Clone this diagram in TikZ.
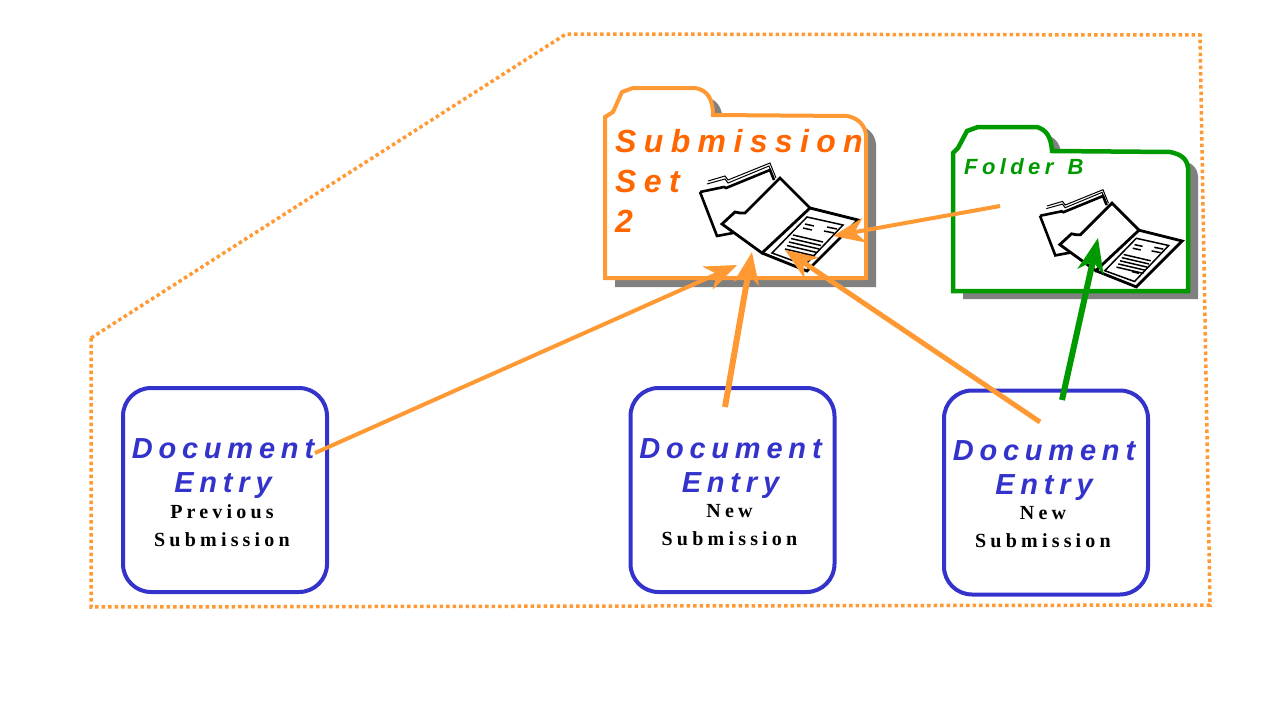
\documentclass[tikz,border=0pt]{standalone}
\usepackage{fontspec}
\setmainfont{Liberation Sans}
\newfontfamily\foldertitlefont[LetterSpace=23]{Liberation Sans Bold Italic}
\newfontfamily\foldernamefont[LetterSpace=20]{Liberation Sans Bold Italic}
\newfontfamily\entrytitlefont[LetterSpace=20]{Liberation Sans Bold Italic}
\newfontfamily\entrysubfont[LetterSpace=21]{Liberation Serif Bold}
\usetikzlibrary{arrows.meta,positioning}
\definecolor{setorange}{HTML}{FF9933}
\definecolor{settext}{HTML}{FF6600}
\definecolor{foldergreen}{HTML}{009900}
\definecolor{entryblue}{HTML}{3333CC}
\definecolor{shadowgray}{HTML}{808080}
\tikzset{
    entry/.style={draw=entryblue,line width=4pt,rounded corners=28pt,minimum width=204pt,minimum height=204pt},
    entrytitle/.style={anchor=north,inner sep=0pt,align=center,text=entryblue,font=\fontsize{29}{34}\selectfont\entrytitlefont},
    entrysub/.style={anchor=north,inner sep=0pt,align=center,text=black,font=\fontsize{20}{28}\selectfont\entrysubfont},
    settitle/.style={anchor=north west,inner sep=0pt,align=left,text=settext,font=\fontsize{32}{40}\selectfont\foldertitlefont},
    foldername/.style={anchor=north west,inner sep=0pt,text=foldergreen,font=\fontsize{22}{26}\selectfont\foldernamefont},
    orangelink/.style={draw=setorange,line width=5pt,-{Stealth[length=32pt,width=25pt,inset=10pt]}},
    greenlink/.style={draw=foldergreen,line width=6pt,-{Stealth[length=34pt,width=26pt,inset=10pt]}},
    foldericon/.pic={
        \draw[line width=2.6pt,line join=miter] (0,42) -- (24,37) -- (26,38) -- (70,20) -- (74,30);
        \draw[line width=2.6pt] (0,42) -- (17,86) -- (33,83);
        \draw[line width=1pt] (8,31) -- (25,26) -- (28,30) -- (70,13) -- (76,28);
        \draw[line width=1pt] (7,34) -- (25,29) -- (28,33) -- (69,16) -- (74,30);
        \draw[line width=2.8pt] (22,74) -- (35,62) -- (40,63) -- (45,63) -- (80,28) -- (110,58) -- (62,103) -- cycle;
        \draw[line width=2.8pt] (110,58) -- (158,70) -- (107,121) -- (62,103);
        \draw[line width=1.5pt] (107,67) -- (143,75) -- (105,115) -- (72,103) -- cycle;
        \draw[line width=1.5pt] (105,74) -- (114,76) (103,78) -- (112,80) (127,77) -- (137,79) (124,81) -- (134,83) (102,104) -- (110,106);
        \foreach \i in {0,1,2,3,4}
            \draw[line width=1.5pt] (93-\i*2,85+\i*3.5) -- (123-\i*2,92+\i*3.5);
    }
}
\newcommand{\submissionpath}{(605,117) -- (613,112) -- (622,92) -- (633,88) -- (695,88) .. controls (708,90) and (713,100) .. (713,115) -- (847,116) .. controls (858,118) and (865,125) .. (866,135) -- (866,278) -- (605,278) -- cycle}
\newcommand{\folderbpath}{(953,153) -- (958,148) -- (967,131) -- (978,127) -- (1037,127) .. controls (1046,130) and (1051,136) .. (1052,151) -- (1170,152) .. controls (1180,154) and (1187,158) .. (1188,168) -- (1188,291) -- (953,291) -- cycle}

\begin{document}
\begin{tikzpicture}[x=1pt,y=-1pt]
    \useasboundingbox (0,0) rectangle (1280,720);

    \draw[setorange,line width=3.5pt,dash pattern=on 3.5pt off 3pt] (91,338) -- (566,34) -- (1200,35) -- (1210,605) -- (91,607) -- cycle;

    \fill[shadowgray,shift={(10,9)}] \submissionpath;
    \fill[white] \submissionpath;
    \draw[setorange,line width=4pt] \submissionpath;
    \fill[shadowgray,shift={(10,8)}] \folderbpath;
    \fill[white] \folderbpath;
    \draw[foldergreen,line width=4.5pt] \folderbpath;

    \node[settitle] (settitle) at (615,129.5) {Submission\\Set\\2};
    \node[foldername] (foldertitle) at (964,158) {Folder\ \,B};
    \pic at (700,150) {foldericon};
    \pic[scale=.9] at (1040,178) {foldericon};

    \node[entry] (previous) at (225,490) {};
    \node[entrytitle] (previoustitle) at (previous) [xshift=-2pt,yshift=52pt] {Document\\Entry};
    \node[entrysub] (previoussub) at (previous) [xshift=-3pt,yshift=-14pt] {Previous\\Submission};

    \node[entry] (newa) at (732.5,490) {};
    \node[entrytitle] (newatitle) at (newa) [xshift=-2pt,yshift=52pt] {Document\\Entry};
    \node[entrysub] (newasub) at (newa) [xshift=-3pt,yshift=-14pt] {New\\Submission};

    \node[entry] (newb) at (1046,492.5) {};
    \node[entrytitle] (newbtitle) at (newb) [xshift=-2pt,yshift=52pt] {Document\\Entry};
    \node[entrysub] (newbsub) at (newb) [xshift=-3pt,yshift=-14pt] {New\\Submission};

    \coordinate (previousout) at (315,453);
    \coordinate (newaout) at (725,407);
    \coordinate (newbout) at (1040,422);
    \coordinate (newbgreen) at (1062,400);
    \coordinate (folderout) at (1000,206);
    \coordinate (setinA) at (737,265);
    \coordinate (setinB) at (752,252);
    \coordinate (setinC) at (785,250);
    \coordinate (setinD) at (833,236);
    \coordinate (folderin) at (1098,238);

    \draw[orangelink,line width=4pt] (previousout) -- (setinA);
    \draw[orangelink,line width=6pt] (newaout) -- (setinB);
    \draw[orangelink] (newbout) -- (setinC);
    \draw[orangelink,line width=4pt] (folderout) -- (setinD);
    \draw[greenlink] (newbgreen) -- (folderin);
\end{tikzpicture}
\end{document}
